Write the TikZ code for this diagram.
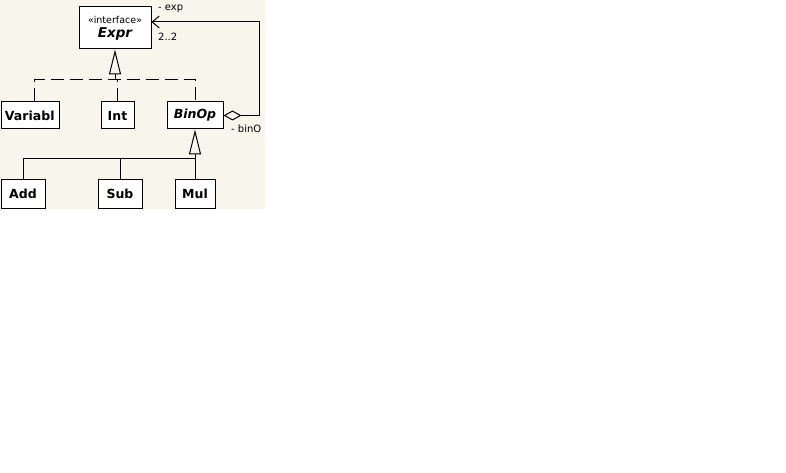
\documentclass[tikz,border=0pt]{standalone}
\usepackage{fontspec}
\setmainfont{DejaVu Sans}
\usetikzlibrary{arrows.meta}
\definecolor{paper}{RGB}{248,245,237}
\tikzset{
  cls/.style={draw=black, line width=1pt, fill=white, inner sep=0pt, minimum height=27pt, font=\fontsize{12.5}{14}\selectfont\bfseries},
  leaf/.style={cls, minimum height=29pt},
  lbl/.style={inner sep=0pt, anchor=base west, font=\fontsize{10}{12}\selectfont},
  gen/.style={line width=1pt, -{Triangle[open, length=25pt, width=12pt, line width=1pt]}},
  real/.style={gen, dash pattern=on 13pt off 6pt},
  agg/.style={line width=1pt, {Diamond[open, length=18pt, width=10pt, line width=1pt]}-{Straight Barb[length=7pt, width=12pt, line width=1pt]}},
  wire/.style={line width=1pt}
}
\begin{document}
\begin{tikzpicture}[x=1pt, y=-1pt]
\useasboundingbox (0,0) rectangle (786,473);
\fill[white] (0,0) rectangle (786,473);
\fill[paper] (0,0) rectangle (265,209);

\node[cls, minimum width=72pt, minimum height=42pt, align=center] (expr) at (115,28)
  {{\fontsize{9.5}{11}\selectfont\mdseries «interface»}\\[0pt]{\fontsize{13.5}{15}\selectfont\bfseries\itshape Expr}};
\node[cls, minimum width=58pt, text width=50pt, align=left] (var) at (30,115.5) {Variabl};
\node[cls, minimum width=33pt] (int) at (117.5,115.5) {Int};
\node[cls, minimum width=56pt, font=\fontsize{12.5}{14}\selectfont\bfseries\itshape] (binop) at (195,115.5) {BinOp};
\node[leaf, minimum width=44pt] (add) at (23,193.5) {Add};
\node[leaf, minimum width=44pt] (sub) at (120,193.5) {Sub};
\node[leaf, minimum width=40pt] (mul) at (195,193.5) {Mul};

% realization (dashed) to Expr
\coordinate (j1) at (115,80);
\draw[real] (j1) -- (expr.south);
\draw[wire, dash pattern=on 13pt off 6pt] ([xshift=4pt]var.north) |- (binop.north |- j1) -- (binop.north);
\draw[wire, dash pattern=on 13pt off 6pt] (int.north) -- (int.north |- j1);

% generalization to BinOp
\coordinate (j2) at (195,159);
\draw[gen] (j2) -- (binop.south);
\draw[wire] (add.north) |- (j2) -- (mul.north);
\draw[wire] (sub.north) -- (sub.north |- j2);

% aggregation
\coordinate (turn) at (259,22);
\draw[agg] (binop.east) -| (turn) -- ([yshift=6pt]expr.east);

\node[lbl] (lexp) at (158,11) {- exp};
\node[lbl] (lmult) at (158,41) {2..2};
\node[lbl] (lbin) at (231,133) {- binO};
\end{tikzpicture}
\end{document}
